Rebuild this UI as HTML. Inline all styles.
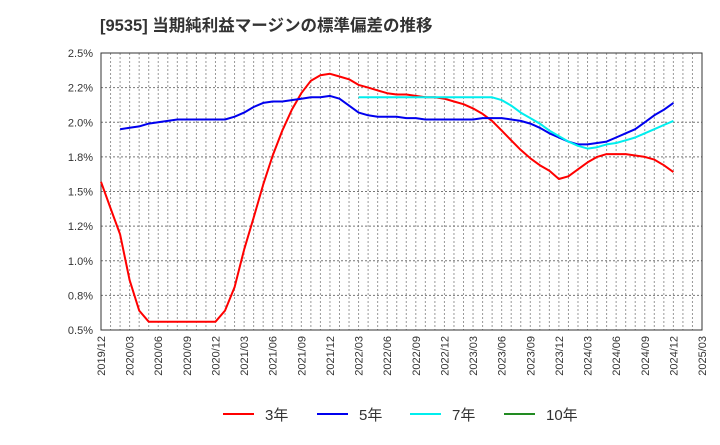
<!DOCTYPE html>
<html><head><meta charset="utf-8"><style>
body{margin:0;background:#fff;}
svg text{font-family:"Liberation Sans","Noto Sans CJK JP",sans-serif;}
</style></head><body>
<svg id="chart" width="720" height="440" xmlns="http://www.w3.org/2000/svg">
<text x="100" y="31" font-size="16.5" font-weight="bold" fill="#333">[9535]  当期純利益マージンの標準偏差の推移</text>
<g id="grid"></g>
<g id="axes"></g>
<g id="series"></g>
<g id="legend"></g>
</svg>
<script>
const yTicks=[0.5,0.75,1.0,1.25,1.5,1.75,2.0,2.25,2.5];
const yTickLabels=["0.5%","0.8%","1.0%","1.2%","1.5%","1.8%","2.0%","2.2%","2.5%"];
const xTickLabels=["2019/12","2020/03","2020/06","2020/09","2020/12","2021/03","2021/06","2021/09","2021/12","2022/03","2022/06","2022/09","2022/12","2023/03","2023/06","2023/09","2023/12","2024/03","2024/06","2024/09","2024/12","2025/03"];
const s3=[1.57,1.38,1.19,0.86,0.64,0.56,0.56,0.56,0.56,0.56,0.56,0.56,0.56,
0.64,0.81,1.08,1.31,1.55,1.76,1.94,2.09,2.21,2.30,2.34,2.35,
2.33,2.31,2.27,2.25,2.23,2.21,2.20,2.20,2.19,2.18,2.18,2.17,
2.15,2.13,2.10,2.06,2.01,1.94,1.87,1.80,1.74,1.69,1.65,1.59,
1.61,1.66,1.71,1.75,1.77,1.77,1.77,1.76,1.75,1.73,1.69,1.64];
const s5=[null,null,1.95,1.96,1.97,1.99,2.00,2.01,2.02,2.02,2.02,2.02,2.02,
2.02,2.04,2.07,2.11,2.14,2.15,2.15,2.16,2.17,2.18,2.18,2.19,
2.17,2.12,2.07,2.05,2.04,2.04,2.04,2.03,2.03,2.02,2.02,2.02,
2.02,2.02,2.02,2.03,2.03,2.03,2.02,2.01,1.99,1.96,1.92,1.89,
1.86,1.84,1.84,1.85,1.86,1.89,1.92,1.95,2.00,2.05,2.09,2.14];
const s7=[null,null,null,null,null,null,null,null,null,null,null,null,null,
null,null,null,null,null,null,null,null,null,null,null,null,
null,null,2.18,2.18,2.18,2.18,2.18,2.18,2.18,2.18,2.18,2.18,
2.18,2.18,2.18,2.18,2.18,2.16,2.12,2.07,2.03,1.99,1.94,1.90,
1.86,1.83,1.81,1.82,1.84,1.85,1.87,1.89,1.92,1.95,1.98,2.01];
const s10=[];
const L=101,R=702,T=53,B=330,NM=63;
const x=i=>L+(R-L)*i/NM;
const y=v=>B-(v-0.5)/2*(B-T);
const NS="http://www.w3.org/2000/svg";
function mk(tag,attrs,parent){const e=document.createElementNS(NS,tag);for(const k in attrs)e.setAttribute(k,attrs[k]);parent.appendChild(e);return e;}
const grid=document.getElementById('grid'),axes=document.getElementById('axes'),ser=document.getElementById('series'),leg=document.getElementById('legend');
for(let i=1;i<NM;i++){const l=mk('line',{x1:x(i),x2:x(i),y1:T,y2:B,stroke:'#999','stroke-width':1,'stroke-dasharray':'2,2'},grid);
}
yTicks.forEach((v,i)=>{if(i>0&&i<yTicks.length-1){const l=mk('line',{x1:L,x2:R,y1:y(v),y2:y(v),stroke:'#777','stroke-width':1,'stroke-dasharray':'2,2'},grid);
}
const t=mk('text',{x:L-8,y:y(v)+4,'text-anchor':'end','font-size':11,fill:'#333'},axes);t.textContent=yTickLabels[i];
});
xTickLabels.forEach((s,i)=>{const xx=x(i*3);const t=mk('text',{x:xx+4,y:B+6,'text-anchor':'end','font-size':11,fill:'#333',transform:`rotate(-90 ${xx+4} ${B+6})`},axes);t.textContent=s;
});
const fr=mk('rect',{x:L,y:T,width:R-L,height:B-T,fill:'none',stroke:'#333','stroke-width':1},axes);

function line(arr,color,name){let d='';let pen=false;arr.forEach((v,i)=>{if(v==null){pen=false;return;}d+=(pen?'L':'M')+x(i).toFixed(1)+','+y(v).toFixed(1);pen=true;});
if(!d)return;const p=mk('path',{d:d,fill:'none',stroke:color,'stroke-width':2,'stroke-linejoin':'round'},ser);
}
line(s3,'#ff0000','line-3yr');line(s5,'#0000ee','line-5yr');line(s7,'#00eeee','line-7yr');line(s10,'#228b22','line-10yr');
const items=[['3年','#ff0000',223],['5年','#0000ee',317],['7年','#00eeee',410],['10年','#228b22',504]];
items.forEach(it=>{const g=mk('g',{},leg);
mk('line',{x1:it[2],x2:it[2]+31,y1:414,y2:414,stroke:it[1],'stroke-width':2},g);
const t=mk('text',{x:it[2]+42,y:420,'font-size':15,fill:'#333'},g);t.textContent=it[0];});
</script>
</body></html>
